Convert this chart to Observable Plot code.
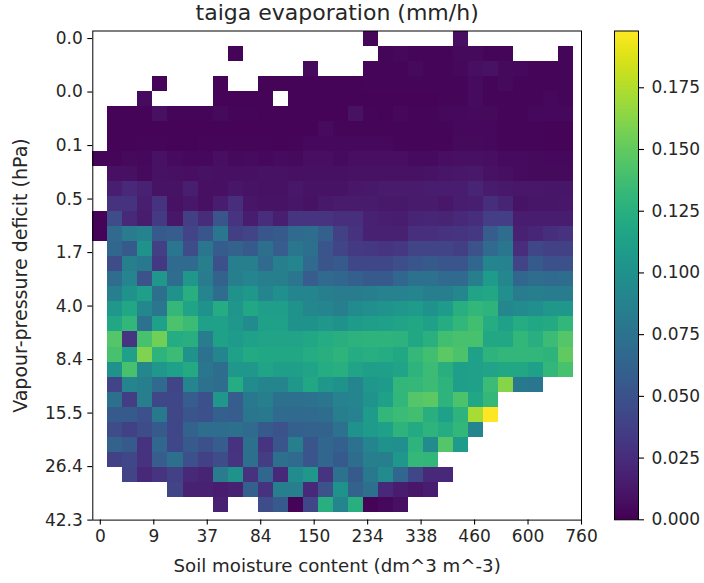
<!DOCTYPE html>
<html><head><meta charset="utf-8">
<script src="https://cdn.jsdelivr.net/npm/d3@7"></script>
<script src="https://cdn.jsdelivr.net/npm/@observablehq/plot@0.6"></script>
<style>
html,body{margin:0;padding:0;background:#fff}
#wrap{position:relative;width:704px;height:583px;overflow:hidden}
#wrap svg{position:absolute;left:0;top:0;background:transparent;overflow:visible}
#wrap svg text{font-family:'DejaVu Sans',sans-serif}
</style></head><body><div id="wrap"></div>
<script>
const titleText = "taiga evaporation (mm/h)";
const xLabel = "Soil moisture content (dm^3 m^-3)";
const yLabel = "Vapour-pressure deficit (hPa)";
const xTickLabels = ["0","9","37","84","150","234","338","460","600","760"];
const yTickLabels = ["0.0","0.0","0.1","0.5","1.7","4.0","8.4","15.5","26.4","42.3"];
const colorTicks = [0,0.025,0.05,0.075,0.1,0.125,0.15,0.175];
const colorMax = 0.198;
const _ = null;
// evaporation in 1/1000 mm/h: one row per vapour-pressure bin, one column per soil-moisture bin
const evaporation = [
[_,_,_,_,_,_,_,_,_,_,_,_,_,_,_,_,_,_,3,_,_,_,_,_,7,_,_,_,_,_,_,_],
[_,_,_,_,_,_,_,_,_,2,_,_,_,_,_,_,_,_,_,3,4,3,3,3,5,5,3,3,_,_,_,3],
[_,_,_,_,_,_,_,_,_,_,_,_,_,_,5,_,_,_,3,3,3,5,3,3,4,7,9,5,4,3,3,3],
[_,_,_,_,2,_,_,_,2,_,_,2,2,2,2,2,2,2,3,3,3,3,3,3,3,6,3,5,3,3,3,3],
[_,_,_,6,_,_,_,_,2,2,2,2,_,2,2,2,2,2,2,2,2,2,2,3,3,6,3,3,3,3,4,3],
[_,2,2,2,8,3,3,3,5,3,3,2,2,2,2,2,2,9,3,2,4,3,3,4,4,5,5,3,3,4,4,4],
[_,2,2,2,2,2,2,2,2,2,2,2,2,2,2,6,3,3,3,3,3,3,3,3,4,4,4,3,3,3,2,2],
[_,2,2,3,3,2,2,3,3,3,3,3,2,3,4,4,4,4,4,4,3,3,3,3,5,5,4,3,3,3,2,2],
[3,3,5,4,9,6,4,4,7,5,6,4,6,5,7,7,6,7,7,7,7,6,6,7,8,8,7,6,6,5,4,4],
[_,8,8,5,9,8,7,9,8,8,8,9,9,8,8,8,8,9,9,9,9,9,10,11,12,13,9,7,6,5,5,5],
[_,17,23,18,10,10,17,8,8,11,10,9,9,12,10,10,10,12,13,14,14,14,15,15,16,20,14,13,12,12,11,11],
[_,28,29,17,29,9,12,8,15,25,11,10,10,11,9,13,14,14,14,13,13,14,14,12,15,17,26,20,10,11,11,12],
[2,45,22,16,33,12,37,24,52,30,15,25,17,30,30,30,27,27,18,17,16,20,21,20,22,26,36,36,15,15,15,15],
[2,68,82,87,55,58,40,52,78,37,40,53,55,68,70,60,38,28,18,18,18,27,27,28,30,31,58,70,18,21,26,28],
[_,65,55,100,37,78,45,78,57,62,55,72,58,78,72,52,40,33,32,30,31,40,40,40,37,50,68,78,25,42,38,38],
[_,45,85,80,32,68,68,85,48,85,85,68,85,90,68,52,55,42,42,42,47,52,55,52,52,65,90,88,40,55,48,48],
[_,70,90,50,105,70,105,82,62,85,90,85,85,78,58,68,65,60,55,55,65,75,75,68,68,85,108,92,65,70,68,70],
[_,85,100,110,72,100,125,90,70,100,105,90,98,90,90,85,82,82,85,88,88,90,85,85,92,115,118,98,82,85,82,82],
[_,105,118,92,78,132,115,100,122,103,118,110,110,100,92,90,85,95,98,102,105,108,100,108,125,130,128,92,95,98,105,105],
[_,118,130,75,112,142,135,112,112,105,95,112,112,100,100,105,100,108,110,112,115,118,112,122,130,138,122,112,122,118,120,130],
[_,145,30,140,155,122,125,82,113,108,112,115,115,115,118,122,125,127,128,128,127,118,126,138,140,140,118,118,130,124,135,145],
[_,140,112,160,128,135,100,75,90,112,120,118,118,118,122,125,128,122,124,122,118,132,138,148,142,112,128,130,130,130,128,150],
[_,100,140,92,105,112,120,78,70,105,105,115,110,110,115,122,125,115,110,110,115,128,135,125,110,112,115,118,118,112,130,140],
[_,40,90,85,68,40,90,75,70,122,95,90,90,105,118,105,100,90,105,108,130,132,135,128,110,112,135,162,80,78,_,_],
[_,72,35,85,42,42,58,48,105,58,80,85,72,72,75,78,88,90,102,112,130,145,148,128,142,118,132,_,_,_,_,_],
[_,55,55,48,80,42,52,48,60,58,78,80,68,68,68,70,85,88,108,130,135,138,125,112,128,172,198,_,_,_,_,_],
[_,45,38,45,55,42,62,70,70,72,68,55,50,60,62,62,75,100,108,112,128,120,128,122,130,90,_,_,_,_,_,_],
[_,62,55,28,65,42,55,48,58,28,72,30,52,85,52,65,60,75,90,100,98,128,95,145,108,_,_,_,_,_,_,_],
[_,38,42,28,58,72,48,38,45,30,72,35,72,68,52,65,55,70,85,85,105,132,130,_,_,_,_,_,_,_,_,_],
[_,_,40,22,30,38,22,20,82,100,28,65,22,95,105,30,75,55,80,95,65,42,22,22,_,_,_,_,_,_,_,_],
[_,_,_,_,_,40,18,18,15,18,60,28,85,85,22,50,100,62,72,22,15,12,15,_,_,_,_,_,_,_,_,_],
[_,_,_,_,_,_,_,_,18,_,_,45,55,2,42,125,90,125,2,4,8,_,_,_,_,_,_,_,_,_,_,_]
];

const cells = evaporation.flatMap((row,r)=>row.map((v,c)=>({r,c,v:v===null?null:v/1000}))).filter(d=>d.v!==null);
const n = 32;
const tickPos = xTickLabels.map((_d,i)=>i*n/9);
const ink = "#262626";
const colorOpt = {type:"linear", scheme:"viridis", domain:[0,colorMax]};
const axisStyle = {tickSize:5, tickPadding:5, strokeWidth:1.1, stroke:"#000", fontSize:17, fill:ink, label:null};

const main = Plot.plot({
  width:704, height:583,
  marginLeft:92.3, marginRight:123, marginTop:30.5, marginBottom:63.4,
  style:{background:"transparent", color:ink},
  x:{domain:[-0.5,n], axis:null},
  y:{domain:[-0.5,n], reverse:true, axis:null},
  color:colorOpt,
  marks:[
    Plot.rect(cells,{x1:d=>d.c-0.5,x2:d=>d.c+0.5,y1:d=>d.r-0.5,y2:d=>d.r+0.5,fill:"v",shapeRendering:"crispEdges"}),
    Plot.axisX({...axisStyle,ticks:tickPos,tickFormat:(d,i)=>xTickLabels[i]}),
    Plot.axisY({...axisStyle,ticks:tickPos,tickFormat:(d,i)=>yTickLabels[i]}),
    Plot.frame({stroke:"#000",strokeWidth:1}),
    Plot.text([titleText],{frameAnchor:"top",dy:-26.5,fontSize:22,lineAnchor:"top",fill:ink}),
    Plot.text([xLabel],{frameAnchor:"bottom",dy:46,fontSize:18.2,lineAnchor:"middle",fill:ink}),
    Plot.text([yLabel],{frameAnchor:"left",dx:-72,fontSize:19,rotate:-90,textAnchor:"middle",fill:ink})
  ]
});

const bar = Plot.plot({
  width:704, height:583,
  marginLeft:614, marginRight:66, marginTop:30.5, marginBottom:63.7,
  style:{background:"transparent", color:ink},
  x:{domain:[0,1], axis:null},
  y:{domain:[0,colorMax], axis:null},
  color:colorOpt,
  marks:[
    Plot.raster({x1:0,x2:1,y1:0,y2:colorMax,width:1,height:256,imageRendering:"auto",fill:(x,y)=>y}),
    Plot.axisY({...axisStyle,tickPadding:8,anchor:"right",ticks:colorTicks,tickFormat:d3.format(".3f")}),
    Plot.frame({stroke:"#000",strokeWidth:1})
  ]
});

document.getElementById("wrap").append(main, bar);
</script></body></html>
